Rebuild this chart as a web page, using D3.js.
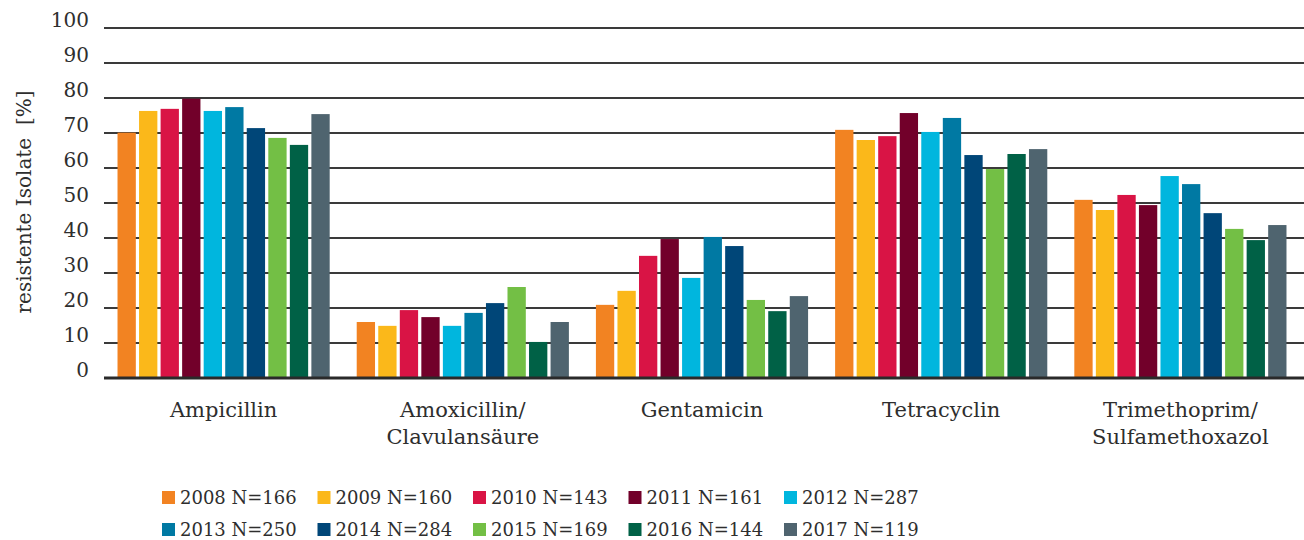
<!DOCTYPE html>
<html>
<head>
<meta charset="utf-8">
<script src="https://cdn.jsdelivr.net/npm/d3@7"></script>
<style>
body { margin: 0; background: #fff; }
svg text { font-family: "DejaVu Serif", serif; fill: #2e2e2e; }
</style>
</head>
<body>
<div id="chart"></div>
<script>
var categories = ["Ampicillin", "Amoxicillin/\nClavulansäure", "Gentamicin", "Tetracyclin", "Trimethoprim/\nSulfamethoxazol"];
var years = ["2008 N=166", "2009 N=160", "2010 N=143", "2011 N=161", "2012 N=287",
             "2013 N=250", "2014 N=284", "2015 N=169", "2016 N=144", "2017 N=119"];
var colors = ["#f28322", "#fbb81a", "#d91445", "#72002a", "#00b6de",
              "#0079a3", "#004678", "#73bf45", "#006146", "#4f646f"];
// one array per antibiotic, values per year 2008..2017
var ampicillin   = [70.1, 76.3, 76.9, 79.8, 76.3, 77.4, 71.4, 68.6, 66.6, 75.4];
var amoxicillin  = [16.0, 14.9, 19.4, 17.4, 14.9, 18.6, 21.4, 26.0, 10.3, 16.0];
var gentamicin   = [20.9, 24.9, 34.9, 39.7, 28.6, 40.3, 37.7, 22.3, 19.1, 23.4];
var tetracyclin  = [70.9, 68.0, 69.1, 75.7, 70.3, 74.3, 63.7, 59.7, 64.0, 65.4];
var trimethoprim = [50.9, 48.0, 52.3, 49.4, 57.7, 55.4, 47.1, 42.6, 39.4, 43.7];
var yTicks = [0, 10, 20, 30, 40, 50, 60, 70, 80, 90, 100];
var yLabel = "resistente Isolate  [%]";

var series = [ampicillin, amoxicillin, gentamicin, tetracyclin, trimethoprim];

var width = 1304, height = 540;
var svg = d3.select("#chart").append("svg")
    .attr("width", width)
    .attr("height", height);

var x0 = d3.scaleBand()
    .domain(categories)
    .range([104, 1300])
    .paddingInner(0.113)
    .paddingOuter(0.0565);
var x1 = d3.scaleBand()
    .domain(d3.range(years.length))
    .range([0, x0.bandwidth()])
    .paddingInner(0.15)
    .paddingOuter(0);
var y = d3.scaleLinear().domain([0, 100]).range([378, 28]);

function draw_grid(){
    var g = svg.append("g");
    g.selectAll("line").data(yTicks.filter(t => t > 0)).enter().append("line")
        .attr("x1", 104).attr("x2", width)
        .attr("y1", d => y(d)).attr("y2", d => y(d))
        .attr("stroke", "#3a3a3a")
        .attr("stroke-width", 2);
    svg.append("g").selectAll("text").data(yTicks).enter().append("text")
        .attr("x", 89)
        .attr("y", d => y(d) - 1)
        .attr("text-anchor", "end")
        .attr("font-size", 20)
        .text(d => d);
}
function draw_bars(){
    var groups = svg.append("g").selectAll("g").data(series).enter().append("g")
        .attr("transform", (d, i) => "translate(" + x0(categories[i]) + ",0)");
    groups.selectAll("rect").data(d => d).enter().append("rect")
        .attr("x", (d, j) => x1(j))
        .attr("width", x1.bandwidth())
        .attr("y", d => y(d))
        .attr("height", d => y(0) - y(d))
        .attr("fill", (d, j) => colors[j]);
    svg.append("line")
        .attr("x1", 104).attr("x2", width)
        .attr("y1", y(0)).attr("y2", y(0))
        .attr("stroke", "#2a2a2a")
        .attr("stroke-width", 3);
}
function draw_labels(){
    var labels = svg.append("g").selectAll("text").data(categories).enter().append("text")
        .attr("text-anchor", "middle")
        .attr("font-size", 21)
        .attr("transform", d => "translate(" + (x0(d) + x0.bandwidth() / 2) + ",0)");
    labels.selectAll("tspan").data(d => d.split("\n")).enter().append("tspan")
        .attr("x", 0)
        .attr("y", (d, i) => 417 + i * 27)
        .text(d => d);
    svg.append("text")
        .attr("transform", "translate(31,202) rotate(-90)")
        .attr("text-anchor", "middle")
        .attr("font-size", 20)
        .style("white-space", "pre")
        .text(yLabel);
}
function draw_legend(){
    var items = svg.append("g").selectAll("g").data(years).enter().append("g")
        .attr("transform", (d, i) => "translate(" + (162 + (i % 5) * 155.5) + "," + (491 + Math.floor(i / 5) * 32) + ")");
    items.append("rect")
        .attr("width", 13).attr("height", 13)
        .attr("fill", (d, i) => colors[i]);
    items.append("text")
        .attr("x", 18)
        .attr("y", 13)
        .attr("font-size", 18)
        .text(d => d);
}

draw_grid()
draw_bars()
draw_labels()
draw_legend()
</script>
</body>
</html>
